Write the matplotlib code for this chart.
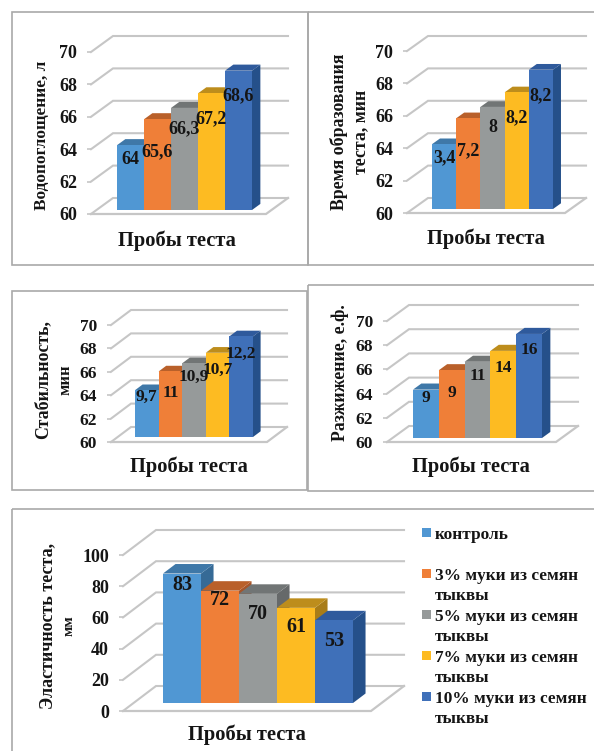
import numpy as np
import matplotlib
matplotlib.use('Agg')
import matplotlib.pyplot as plt
from matplotlib.patches import Polygon, Rectangle

plt.rcParams['font.family'] = ['Liberation Serif', 'DejaVu Serif']
plt.rcParams['font.weight'] = 'bold'
plt.rcParams['axes.labelweight'] = 'bold'

W, H = 594, 751

# высоты столбцов и подписи
heights = [64, 65.6, 66.3, 67.2, 68.6]
water = [64, 65.6, 66.3, 67.2, 68.6]
forming_time = [3.4, 7.2, 8, 8.2, 8.2]
stability = [9.7, 11, 10.9, 10.7, 12.2]
softening = [9, 9, 11, 14, 16]
elasticity = [83, 72, 70, 61, 53]

legend_items = ['контроль', '3% муки из семян\nтыквы', '5% муки из семян\nтыквы',
                '7% муки из семян\nтыквы', '10% муки из семян\nтыквы']

ticks_small = [60, 62, 64, 66, 68, 70]
ticks_big = [0, 20, 40, 60, 80, 100]

front = ['#5097d3', '#ef7f38', '#969a9a', '#fdbb22', '#3f70b9']
top = ['#3f78a8', '#b9602a', '#717575', '#bd8d1c', '#2f5a9c']
side = ['#366a96', '#a5552a', '#66696a', '#a87c18', '#25508a']
GRID = '#c6c6c6'
FRAME = '#a9a9a9'
INK = '#151515'

fig = plt.figure(figsize=(W / 100, H / 100), dpi=100, facecolor='white')

# слой в пикселях для рамок и легенды
over = fig.add_axes([0, 0, 1, 1], zorder=0)
over.set_xlim(0, W)
over.set_ylim(H, 0)
over.axis('off')

for x0, y0, x1, y1 in [(12, 12, 308, 265), (308, 12, 610, 265), (12, 291, 307, 490),
                       (308, 285, 610, 491), (12, 509, 610, 770)]:
    over.add_patch(Rectangle((x0, y0), x1 - x0, y1 - y0, fill=False, ec=FRAME, lw=1.2))


def heights_for(vals, ticks):
    # на шкале 60-70 столбцы идут по общему ряду высот
    return heights if ticks[0] == 60 else vals


def fmt(vals):
    return [f'{v:g}'.replace('.', ',') for v in vals]


def panel(vals, ticks, ylabels, box, bars_x, base, depth, offs, yl_y, xl_pos, fs=13, tick_fs=13):
    x0, x1, ybot, ytop = box
    bar_l, bar_r = bars_x
    dx, dy = depth
    vmin, vmax = ticks[0], ticks[-1]
    scale = (ybot - ytop) / (vmax - vmin)
    bw = (bar_r - bar_l) / len(vals)
    dxc, dyv = dx / bw, dy / scale
    t = (ybot - base) / dy
    xl = -0.5 + t * dxc - (bar_l - x0) / bw
    xr = xl + (x1 - x0) / bw

    ax = fig.add_axes([x0 / W, 1 - ybot / H, (x1 - x0) / W, (ybot - ytop) / H], zorder=1)
    ax.patch.set_alpha(0)
    ax.set_xlim(xl, xr)
    ax.set_ylim(vmin, vmax)
    for s in ax.spines.values():
        s.set_visible(False)
    ax.set_xticks([])
    ax.set_yticks(ticks)
    ax.tick_params(axis='y', length=3, width=1.2, color=GRID, labelsize=tick_fs, labelcolor=INK, pad=7)

    # стенки и пол
    for v in ticks:
        ax.plot([xl, xl + dxc, xr + dxc], [v, v + dyv, v + dyv], color=GRID, lw=1.5,
                clip_on=False, zorder=1, solid_joinstyle='miter')
    ax.plot([xl, xr, xr + dxc], [vmin, vmin, vmin + dyv], color=GRID, lw=1.6,
            clip_on=False, zorder=1, solid_joinstyle='miter')

    # столбцы псевдо-3D: слева направо, каждый следующий перекрывает предыдущий
    b = t * dyv
    sx, sy = 0.38 * dxc, 0.38 * dyv
    xs = np.arange(len(vals)) + t * dxc
    labels = fmt(vals)
    for i, (xc, h) in enumerate(zip(xs, heights_for(vals, ticks))):
        l, r = xc - 0.5, xc + 0.5
        y0, y1 = vmin + b, h + b
        ax.add_patch(Polygon([(r, y0), (r + sx, y0 + sy), (r + sx, y1 + sy), (r, y1)],
                             fc=side[i], ec='none', clip_on=False, zorder=3 + i))
        ax.add_patch(Polygon([(l, y1), (l + sx, y1 + sy), (r + sx, y1 + sy), (r, y1)],
                             fc=top[i], ec='none', clip_on=False, zorder=3 + i))
        ax.bar(xc, h - vmin, bottom=y0, width=1, color=front[i], clip_on=False, zorder=3 + i)
        ax.text(xc, y1 - offs[i] / scale, labels[i], ha='center', va='center',
                fontsize=fs, color=INK, zorder=20, clip_on=False)

    ax.set_xlabel('Пробы теста', fontsize=14.8, color=INK, va='center')
    ax.xaxis.set_label_coords(xl_pos[0], xl_pos[1], transform=over.transData)

    # подписи оси Y, строки разного кегля
    for text, x, size in ylabels:
        over.text(x, yl_y, text, rotation=90, ha='center', va='center', fontsize=size, color=INK)
    return ax


panel(water, ticks_small, [('Водопоглощение, л', 42, 12.4)],
      (91, 266, 214, 52), (117, 252), 210, (22, 16), (14, 32, 21, 25, 25), 135, (177, 241))
panel(forming_time, ticks_small, [('Время образования', 339, 12.8), ('теста, мин', 361, 12.8)],
      (407, 565, 213, 51), (432, 553), 209, (21, 15), (14, 32, 21, 25, 26), 132, (486, 239))
panel(stability, ticks_small, [('Стабильность,', 43, 12.8), ('мин', 66, 12)],
      (111, 267, 442, 325), (135, 253), 437, (20, 15), (7, 22, 14, 17, 17), 380, (189, 467), fs=12.5, tick_fs=12.5)
panel(softening, ticks_small, [('Разжижение, е.ф.', 340, 12.8)],
      (387, 556, 442, 321), (413, 542), 438, (22, 16), (8, 23, 14, 17, 16), 373, (471, 467), fs=12.5, tick_fs=12.5)
panel(elasticity, ticks_big, [('Эластичность теста,', 48, 13), ('мм', 69, 11)],
      (123, 371, 711, 555), (163, 353), 703, (33, 25), (11, 9, 20, 19, 21), 626, (247, 735), fs=14.5)

# легенда
y = 528
for color, item in zip(front, legend_items):
    over.add_patch(Rectangle((422, y), 9, 9, fc=color, ec='none'))
    over.text(435, y - 1, item, fontsize=12.4, color=INK, va='top', linespacing=1.35)
    y += 41

fig.savefig('out.png', dpi=100)
